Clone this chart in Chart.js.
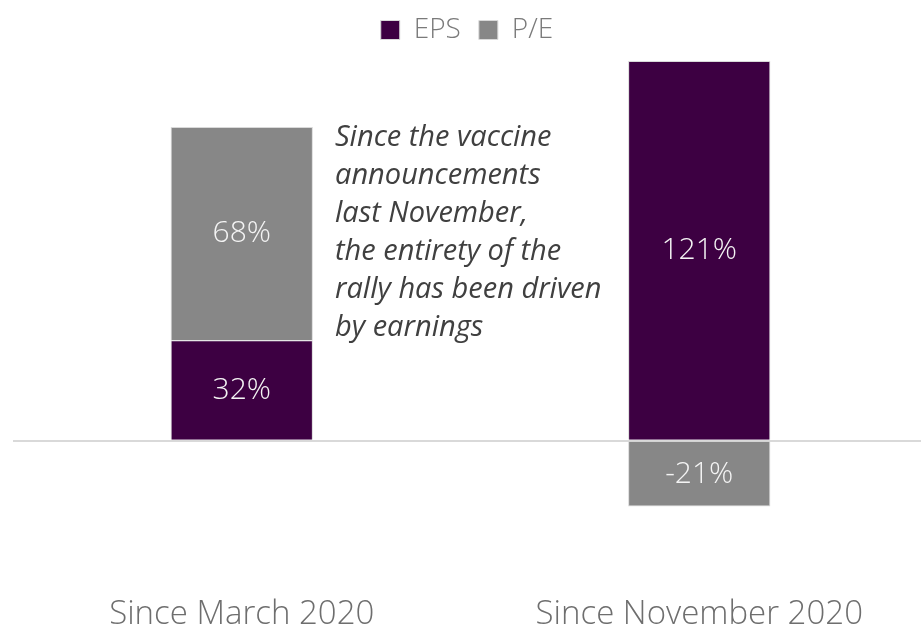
<!DOCTYPE html>
<html lang="en">
<head>
  <meta charset="UTF-8">
  <title>EPS vs P/E contribution</title>
  <script src="https://cdn.jsdelivr.net/npm/chart.js"></script>
  <style>
    html, body { margin: 0; padding: 0; background: #ffffff; overflow: hidden; }
    #wrap { width: 921px; height: 625px; }
  </style>
</head>
<body>
  <div id="wrap"><canvas id="rallyChart"></canvas></div>

  <script>
    // Data
    const periods = ['Since March 2020', 'Since November 2020'];
    const epsShare = [32, 121];
    const peShare = [68, -21];
    const noteLines = [
      'Since the vaccine',
      'announcements',
      'last November,',
      'the entirety of the',
      'rally has been driven',
      'by earnings'
    ];

    const FONT = '"Open Sans", "Liberation Sans", sans-serif';

    // a bit more room under the legend
    const legendGap = {
      id: 'legendGap',
      beforeInit(chart) {
        const fit = chart.legend.fit;
        chart.legend.fit = function () {
          fit.bind(chart.legend)();
          this.height += 7;
        };
      }
    };

    // the category axis runs a little past the right edge in the original
    const stretchX = {
      id: 'stretchX',
      afterLayout(chart) {
        const x = chart.scales.x;
        x.right = x.left + 915;
        x.width = 915;
        x.configure();
      }
    };

    // White percentage labels in the middle of every segment
    const segmentLabels = {
      id: 'segmentLabels',
      afterDatasetsDraw(chart) {
        const ctx = chart.ctx;
        ctx.save();
        ctx.fillStyle = '#f4f4f4';
        ctx.font = '300 30px ' + FONT;
        ctx.textAlign = 'center';
        ctx.textBaseline = 'middle';
        chart.data.datasets.forEach((ds, i) => {
          chart.getDatasetMeta(i).data.forEach((bar, j) => {
            const mid = (bar.y + bar.base) / 2;
            ctx.fillText(ds.data[j] + '%', bar.x, mid);
          });
        });
        ctx.restore();
      }
    };

    // Italic comment next to the first bar
    const note = {
      id: 'note',
      afterDraw(chart) {
        const ctx = chart.ctx;
        ctx.save();
        ctx.fillStyle = '#404040';
        ctx.font = 'italic 29px ' + FONT;
        ctx.textAlign = 'left';
        ctx.textBaseline = 'middle';
        noteLines.forEach((line, i) => {
          ctx.fillText(line, 335, 138 + i * 38);
        });
        ctx.restore();
      }
    };

    new Chart(document.getElementById('rallyChart'), {
      type: 'bar',
      data: {
        labels: periods,
        datasets: [
          {
            label: 'EPS',
            data: epsShare,
            backgroundColor: '#3d0042',
            borderColor: '#d9d9d9',
            borderWidth: 1
          },
          {
            label: 'P/E',
            data: peShare,
            backgroundColor: '#878787',
            borderColor: '#d9d9d9',
            borderWidth: 1
          }
        ]
      },
      options: {
        responsive: true,
        maintainAspectRatio: false,
        animation: false,
        datasets: {
          bar: { barPercentage: 0.311, categoryPercentage: 1 }
        },
        layout: { padding: { left: 13, right: 0, top: -2, bottom: -19 } },
        plugins: {
          legend: {
            position: 'top',
            labels: {
              boxWidth: 19,
              boxHeight: 19,
              padding: 18,
              color: '#7a7a7a',
              font: { family: FONT, size: 28, weight: '300' }
            }
          },
          tooltip: { enabled: false }
        },
        scales: {
          x: {
            stacked: true,
            grid: { display: false, drawTicks: false },
            border: { display: false },
            ticks: {
              padding: 13,
              color: '#6e6e6e',
              font: { family: FONT, size: 33, weight: '300', lineHeight: 1 }
            }
          },
          y: {
            stacked: true,
            min: -46,
            max: 121,
            display: true,
            grid: {
              drawTicks: false,
              lineWidth: 2,
              color: c => (c.tick && c.tick.value === 0 ? '#d9d9d9' : 'rgba(0,0,0,0)')
            },
            border: { display: false },
            ticks: { display: false, stepSize: 1 }
          }
        }
      },
      plugins: [legendGap, stretchX, segmentLabels, note]
    });
  </script>
</body>
</html>
